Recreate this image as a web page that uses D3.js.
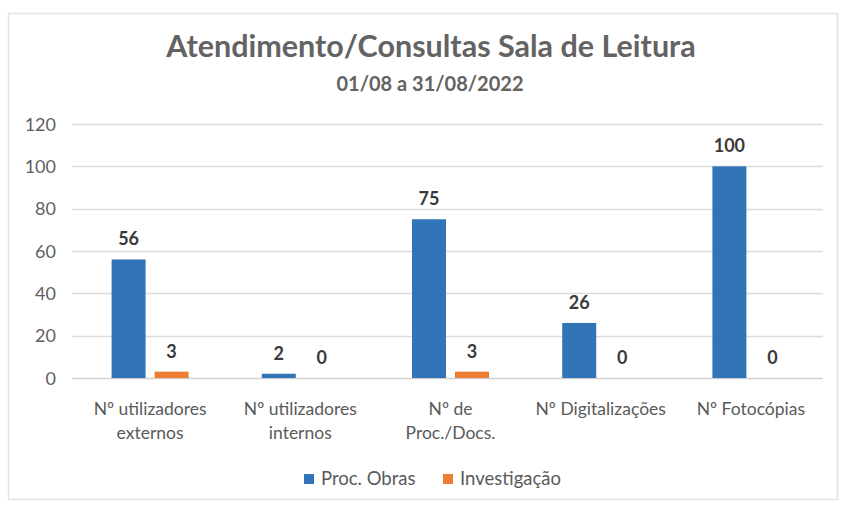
<!DOCTYPE html>
<html><head><meta charset="utf-8">
<script src="https://cdn.jsdelivr.net/npm/d3@7"></script>
<style>
body{margin:0;background:#fff;}
svg{display:block;font-family:Lato,"Open Sans",sans-serif;}
</style></head>
<body>
<svg id="chart" width="841" height="508"></svg>
<script>
const categories = [["Nº utilizadores","externos"],["Nº utilizadores","internos"],["Nº de","Proc./Docs."],["Nº Digitalizações"],["Nº Fotocópias"]];
const seriesNames = ["Proc. Obras","Investigação"];
const procObras = [56, 2, 75, 26, 100];
const investigacao = [3, 0, 3, 0, 0];
const yTicks = [0,20,40,60,80,100,120];
const title = "Atendimento/Consultas Sala de Leitura";
const subtitle = "01/08 a 31/08/2022";
const colors = ["#3174b7","#ed7d31"];

const svg = d3.select("#chart");
const plot = {left:72, right:823, top:124, bottom:378};

svg.append("rect").attr("x",8.5).attr("y",13.5).attr("width",829).attr("height",486)
  .attr("fill","#fff").attr("stroke","#e3e3e8").attr("stroke-width",1.5);

svg.append("text").attr("x",431).attr("y",57).attr("text-anchor","middle")
  .attr("font-size",30.5).attr("font-weight",700).attr("fill","#636363").text(title);
svg.append("text").attr("x",430).attr("y",91).attr("text-anchor","middle")
  .attr("font-size",20).attr("font-weight",700).attr("fill","#636363").text(subtitle);

const x0 = d3.scaleBand().domain(d3.range(categories.length)).range([plot.left+3, plot.right+3]);
const y = d3.scaleLinear().domain([0,120]).range([plot.bottom, plot.top]);

svg.append("g").selectAll("line").data(yTicks).join("line")
  .attr("x1",plot.left).attr("x2",plot.right)
  .attr("y1",d=>Math.round(y(d))+0.5).attr("y2",d=>Math.round(y(d))+0.5)
  .attr("stroke",d=>d===0?"#d0d0d0":"#dcdcdc").attr("stroke-width",1.5);

const yAxis = d3.axisLeft(y).tickValues(yTicks).tickSize(0).tickPadding(0);
const gy = svg.append("g").attr("transform",`translate(56,0)`).call(yAxis);
gy.select(".domain").remove();
gy.selectAll("text").attr("font-size",18).attr("fill","#5f5f5f").attr("font-family","Lato,sans-serif").attr("dy","0.35em");

const barW = 34, gap = 9;
const series = [procObras, investigacao];
series.forEach((vals, si) => {
  const off = si === 0 ? -(gap/2 + barW) : gap/2;
  const g = svg.append("g");
  g.selectAll("rect").data(vals).join("rect")
    .attr("x",(d,i)=>x0(i)+x0.bandwidth()/2+off)
    .attr("width",barW)
    .attr("y",d=>y(d))
    .attr("height",d=>y(0)-y(d))
    .attr("fill",colors[si]);
  g.selectAll("text").data(vals).join("text")
    .attr("x",(d,i)=>x0(i)+x0.bandwidth()/2+off+barW/2)
    .attr("y",d=>y(d)-14)
    .attr("text-anchor","middle").attr("font-size",18).attr("font-weight",700)
    .attr("fill","#3a3a3a").text(d=>d);
});

const gx = svg.append("g");
categories.forEach((lines,i)=>{
  const cx = x0(i)+x0.bandwidth()/2;
  const t = gx.append("text").attr("x",cx).attr("y",415)
    .attr("text-anchor","middle").attr("font-size",17.5).attr("fill","#5a5a5a");
  lines.forEach((l,j)=>t.append("tspan").attr("x",cx).attr("dy",j===0?0:24).text(l));
});

const leg = svg.append("g");
const legX = [304, 443];
seriesNames.forEach((n,i)=>{
  leg.append("rect").attr("x",legX[i]).attr("y",474).attr("width",10).attr("height",10).attr("fill",colors[i]);
  leg.append("text").attr("x",legX[i]+17).attr("y",485).attr("font-size",18.5).attr("fill","#5a5a5a").text(n);
});
</script>
</body></html>
